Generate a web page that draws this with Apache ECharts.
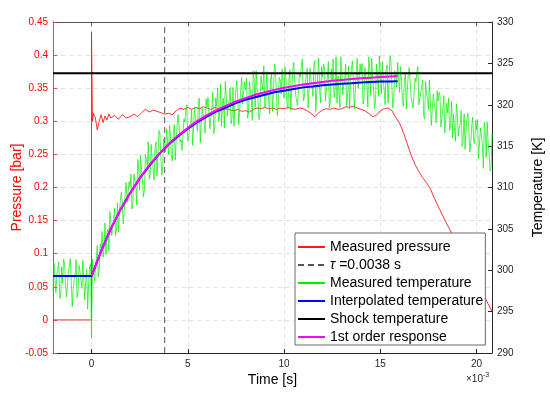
<!DOCTYPE html>
<html><head><meta charset="utf-8">
<script src="https://cdn.jsdelivr.net/npm/echarts@6/dist/echarts.min.js"></script>
<style>html,body{margin:0;padding:0;background:#fff}#c{width:550px;height:396px}</style>
</head><body><div id="c"></div>
<script>
// x tick labels (time in units of 1e-3 s)
const xTicks = [0, 5, 10, 15, 20];

// Measured temperature [K]: samples at -2.0, -1.9, ... 20.8 (x1e-3 s)
const greenStart = -2.0, greenStep = 0.1;
const measuredTemp = [
 297.5,300.8,299.6,301.0,297.0,298.4,300.9,296.8,299.8,301.4,295.6,298.9,301.3,297.4,299.9,297.8,301.2,298.6,295.3,300.4,
 291.8,
 301.3,300.0,303.0,300.0,302.6,301.6,305.7,304.5,302.4,306.0,
 305.3,307.5,305.0,304.6,308.5,307.9,307.2,310.6,308.3,310.1,
 307.4,311.6,310.2,313.4,309.7,312.0,308.9,314.0,312.7,311.0,
 315.2,312.3,314.8,311.4,316.9,313.8,312.6,315.7,317.1,314.0,
 316.2,313.2,317.6,315.7,318.8,315.5,314.5,318.3,319.3,315.6,
 317.5,319.4,315.0,318.4,316.8,320.8,317.6,319.6,316.6,319.7,
 320.7,318.4,321.5,317.2,319.8,318.0,322.5,320.5,317.2,321.1,
 319.7,322.1,318.4,317.4,321.9,320.7,319.5,323.3,319.9,321.8,
 318.4,322.8,320.9,324.1,319.7,322.0,318.2,323.5,321.8,319.6,
 324.0,320.6,323.1,319.2,324.9,321.3,319.8,323.0,324.3,320.8,
 323.1,319.5,324.2,321.9,325.1,321.2,319.9,323.8,324.8,320.5,
 322.5,324.4,319.4,323.0,321.0,325.3,321.6,325.6,320.2,323.4,
 324.6,321.9,325.2,320.3,323.0,320.9,325.8,323.5,319.7,323.9,
 322.4,324.9,320.7,319.5,324.4,322.9,321.5,325.6,321.8,323.8,
 320.1,324.5,322.5,325.8,321.1,323.4,319.5,324.9,321.0,325.9,
 325.2,321.8,324.2,320.2,325.9,322.2,320.7,323.8,325.1,321.5,
 323.1,319.8,323.9,321.7,324.5,320.9,319.6,323.2,324.0,320.0,
 321.5,323.0,318.3,321.4,319.4,323.1,319.5,321.1,317.8,320.4,
 321.1,318.5,321.1,316.7,319.0,316.9,320.4,318.9,315.6,318.9,
 317.2,319.3,315.4,314.6,318.3,316.8,315.4,318.5,315.3,317.0,
 313.5,317.2,315.2,317.9,313.6,315.5,312.0,316.5
];
// Measured temperature [K]: in-between samples at -1.95, -1.85, ... 20.75 (x1e-3 s)
const measuredTempMid = [
 300.9,297.3,299.5,296.6,300.4,301.3,298.3,297.0,299.9,301.6,297.7,299.3,296.7,300.6,298.9,301.2,296.4,300.1,298.5,300.8,
 301.3,298.7,301.3,299.2,303.2,304.7,302.5,301.9,305.0,307.1,
 304.2,305.9,304.2,308.1,307.0,309.4,305.6,309.3,308.2,310.7,
 311.6,308.0,310.8,307.9,312.4,313.9,310.8,309.7,313.3,315.5,
 311.5,313.4,310.9,315.5,313.8,316.6,311.5,315.9,314.3,317.1,
 317.5,313.7,316.4,313.3,317.7,319.0,315.8,314.6,317.9,320.0,
 315.9,317.8,315.1,319.6,317.9,320.5,315.4,319.6,317.9,320.7,
 320.9,317.1,319.7,316.5,320.8,322.0,318.7,317.4,320.8,322.8,
 318.6,320.4,317.7,322.1,320.3,322.9,317.6,321.8,320.1,322.8,
 323.2,318.8,321.7,318.1,322.9,324.1,320.4,319.0,322.5,324.7,
 320.0,321.9,318.9,323.7,321.7,324.5,318.7,323.3,321.3,324.2,
 324.6,320.2,323.0,319.3,324.0,325.2,321.4,319.9,323.4,325.5,
 320.9,322.7,319.6,324.4,322.3,325.0,319.2,323.7,321.7,324.6,
 324.9,320.5,323.3,319.6,324.3,325.5,321.7,320.2,323.7,325.8,
 321.2,323.0,319.9,324.7,322.6,325.3,319.5,324.0,322.0,324.9,
 325.0,320.6,323.4,319.7,324.4,325.6,321.8,320.3,323.8,325.9,
 321.3,323.1,320.0,324.8,322.7,325.4,319.6,324.1,322.1,325.0,
 324.6,320.5,322.9,319.5,323.6,324.6,321.1,319.6,322.8,324.6,
 320.1,321.6,318.6,322.8,320.7,323.0,317.5,321.3,319.3,321.7,
 321.5,317.3,319.6,316.6,320.2,320.8,317.5,316.0,319.0,320.1,
 316.2,317.7,315.0,318.9,316.8,319.0,314.3,317.6,315.6,318.1,
 318.2,313.6,316.2,312.3,316.8,317.9,314.0,312.3
];

// Measured pressure [bar]
const pressureTime = [-2,0,0,0.05,0.1,0.2,0.3,0.4,0.5,0.6,0.7,0.8,0.9,1.0,
 1.2,1.4,1.6,1.8,2.0,2.2,2.4,2.6,2.8,3.0,3.2,3.4,3.6,3.8,4.0,4.2,4.4,4.6,4.8,5.0,
 5.2,5.4,5.6,5.8,6.0,6.2,6.4,6.6,6.8,7.0,7.2,7.4,7.6,7.8,8.0,8.2,8.4,8.6,8.8,9.0,
 9.2,9.4,9.6,9.8,10.0,10.2,10.4,10.6,10.8,11.0,11.2,11.4,11.6,11.8,12.0,12.2,12.4,12.6,12.8,13.0,
 13.2,13.4,13.6,13.8,14.0,14.2,14.4,14.6,14.8,15.0,15.2,15.4,15.6,15.8,16.0,16.2,16.4,16.6,16.8,17.0,
 17.2,17.4,17.6,17.8,18.0,18.2,18.4,18.6,18.8,19.0,19.2,19.4,19.6,19.8,20.0,20.2,20.4,20.6,20.8];
const pressureValue = [0,0,0.435,0.300,0.312,0.305,0.287,0.300,0.310,0.298,0.308,0.302,0.311,0.305,
 0.309,0.303,0.310,0.305,0.307,0.311,0.307,0.313,0.318,0.314,0.317,0.315,0.313,0.311,0.312,0.310,0.316,0.320,0.318,0.321,
 0.318,0.321,0.319,0.322,0.320,0.318,0.321,0.319,0.317,0.319,0.317,0.316,0.318,0.315,0.316,0.314,0.318,0.320,0.319,0.321,
 0.319,0.320,0.318,0.320,0.319,0.321,0.319,0.318,0.320,0.319,0.316,0.312,0.307,0.313,0.317,0.319,0.318,0.320,0.318,0.319,
 0.322,0.321,0.323,0.320,0.318,0.316,0.312,0.307,0.309,0.316,0.319,0.320,0.316,0.306,0.297,0.283,0.266,0.249,0.235,0.224,
 0.215,0.207,0.198,0.184,0.172,0.160,0.148,0.137,0.126,0.115,0.105,0.094,0.083,0.072,0.060,0.048,0.036,0.024,0.013];

// Interpolated temperature [K]
const interpTime = [-2,0,0.5,1,1.5,2,2.5,3,3.5,4,4.5,5,5.5,6,6.5,7,7.5,8,8.5,9,9.5,10,10.5,11,11.5,12,12.5,13,13.5,14,14.5,15,15.5,15.9];
const interpTemp = [299.3,299.3,302.3,305.0,307.3,309.3,311.1,312.6,314.0,315.2,316.2,317.1,317.9,318.6,319.2,319.7,320.2,320.6,320.9,321.2,321.5,321.7,321.9,322.1,322.2,322.35,322.45,322.55,322.6,322.7,322.75,322.8,322.8,322.85];

// 1st order response [K]
const responseTime = [0,0.5,1,1.5,2,2.5,3,3.5,4,4.5,5,5.5,6,6.5,7,7.5,8,8.5,9,9.5,10,10.5,11,11.5,12,12.5,13,13.5,14,14.5,15,15.5,15.9];
const responseTemp = [299.3,302.3,305.0,307.3,309.3,311.1,312.7,314.05,315.25,316.3,317.2,318.05,318.75,319.35,319.9,320.4,320.8,321.2,321.5,321.8,322.05,322.25,322.45,322.6,322.75,322.9,323.0,323.1,323.2,323.25,323.35,323.4,323.45];

// Shock temperature [K] and time constant
const shockTime = [-2, 20.8];
const shockTemp = [323.8, 323.8];
const tauTime = [3.8, 3.8];
const tauPressure = [-0.05, 0.45];

const zip = (a, b) => a.map((v, i) => [v, b[i]]);
const greenData = [];
measuredTemp.forEach((v, i) => {
  const t = greenStart + i * greenStep;
  greenData.push([+t.toFixed(2), v]);
  if (i < measuredTempMid.length) greenData.push([+(t + greenStep / 2).toFixed(3), measuredTempMid[i]]);
});

const font = '"Liberation Sans", Arial, Helvetica, sans-serif';
const axisGray = '#262626';
const gridStyle = {show: true, lineStyle: {color: '#dfe3e6', width: 1, type: [5, 3]}};

const chart = echarts.init(document.getElementById('c'));
chart.setOption({
  animation: false,
  backgroundColor: '#fff',
  grid: {left: 53, right: 58, top: 22, bottom: 43, containLabel: false, outerBoundsMode: 'none'},
  xAxis: [{
    type: 'value', min: -2, max: 20.8, position: 'bottom',
    axisLine: {onZero: false, lineStyle: {color: axisGray, width: 1}},
    axisTick: {inside: true, length: 4, customValues: xTicks, lineStyle: {color: axisGray}},
    axisLabel: {customValues: xTicks, margin: 6, color: axisGray, fontSize: 10, fontFamily: font},
    splitLine: gridStyle,
    name: 'Time [s]', nameLocation: 'middle', nameGap: 20, nameMoveOverlap: false,
    nameTextStyle: {color: '#000', fontSize: 14, fontFamily: font}
  }, {
    type: 'value', min: -2, max: 20.8, position: 'top',
    axisLine: {onZero: false, lineStyle: {color: '#555', width: 1}},
    axisTick: {inside: true, length: 4, customValues: xTicks, lineStyle: {color: '#555'}},
    axisLabel: {show: false},
    splitLine: {show: false}
  }],
  yAxis: [{
    type: 'value', min: -0.05, max: 0.45, interval: 0.05, position: 'left',
    axisLine: {show: true, onZero: false, lineStyle: {color: '#ff3b3b', width: 1}},
    axisTick: {show: true, inside: true, length: 4, lineStyle: {color: '#ff3b3b'}},
    axisLabel: {color: '#ff0000', fontSize: 10, fontFamily: font, margin: 5,
      formatter: v => String(parseFloat(v.toFixed(2)))},
    splitLine: gridStyle,
    name: 'Pressure [bar]', nameLocation: 'middle', nameGap: 29, nameRotate: 90, nameMoveOverlap: false,
    nameTextStyle: {color: '#ff0000', fontSize: 14, fontFamily: font}
  }, {
    type: 'value', min: 290, max: 330, interval: 5, position: 'right',
    axisLine: {show: true, onZero: false, lineStyle: {color: axisGray, width: 1}},
    axisTick: {show: true, inside: true, length: 4, lineStyle: {color: axisGray}},
    axisLabel: {color: axisGray, fontSize: 10, fontFamily: font, margin: 5},
    splitLine: {show: false},
    name: 'Temperature [K]', nameLocation: 'middle', nameGap: 39, nameRotate: 90, nameMoveOverlap: false,
    nameTextStyle: {color: '#000', fontSize: 14, fontFamily: font}
  }],
  legend: {
    orient: 'vertical', left: 295, top: 233,
    padding: [7, 2, 1, 2], itemWidth: 27, itemHeight: 14, itemGap: 4,
    backgroundColor: '#fff', borderColor: '#6a6a6a', borderWidth: 1, borderRadius: 0,
    itemStyle: {opacity: 0},
    textStyle: {color: '#000', fontSize: 14, fontFamily: font, lineHeight: 14,
      rich: {i: {fontStyle: 'italic', fontSize: 14, fontFamily: font, color: '#000'}}},
    formatter: n => n.charAt(0) === 'τ' ? '{i|τ}' + n.slice(1) : n,
    data: ['Measured pressure', 'τ =0.0038 s', 'Measured temperature', 'Interpolated temperature', 'Shock temperature', '1st order response']
  },
  graphic: [{
    type: 'text', left: 466, top: 372,
    style: {
      text: '{a|×10}{s|-3}',
      rich: {a: {fontSize: 10, fontFamily: font, fill: axisGray}, s: {fontSize: 7, fontFamily: font, fill: axisGray, padding: [0, 0, 7, 0]}}
    }
  }],
  series: [{
    name: 'Measured pressure', type: 'line', xAxisIndex: 0, yAxisIndex: 0, symbol: 'none',
    data: zip(pressureTime, pressureValue),
    lineStyle: {color: '#ff1a1a', width: 0.9}, itemStyle: {color: '#ff1a1a'}
  }, {
    name: 'τ =0.0038 s', type: 'line', xAxisIndex: 0, yAxisIndex: 0, symbol: 'none',
    data: zip(tauTime, tauPressure),
    lineStyle: {color: '#555', width: 1, type: [6, 4]}, itemStyle: {color: '#555'}
  }, {
    name: 'Measured temperature', type: 'line', xAxisIndex: 0, yAxisIndex: 1, symbol: 'none',
    data: greenData,
    lineStyle: {color: '#00ee00', width: 0.7}, itemStyle: {color: '#00ee00'}
  }, {
    name: 'Interpolated temperature', type: 'line', xAxisIndex: 0, yAxisIndex: 1, symbol: 'none',
    data: zip(interpTime, interpTemp),
    lineStyle: {color: '#0000ff', width: 2}, itemStyle: {color: '#0000ff'}
  }, {
    name: 'Shock temperature', type: 'line', xAxisIndex: 0, yAxisIndex: 1, symbol: 'none',
    data: zip(shockTime, shockTemp),
    lineStyle: {color: '#000', width: 2}, itemStyle: {color: '#000'}
  }, {
    name: '1st order response', type: 'line', xAxisIndex: 0, yAxisIndex: 1, symbol: 'none',
    data: zip(responseTime, responseTemp),
    lineStyle: {color: '#ff00ff', width: 2}, itemStyle: {color: '#ff00ff'}
  }]
});
</script></body></html>
